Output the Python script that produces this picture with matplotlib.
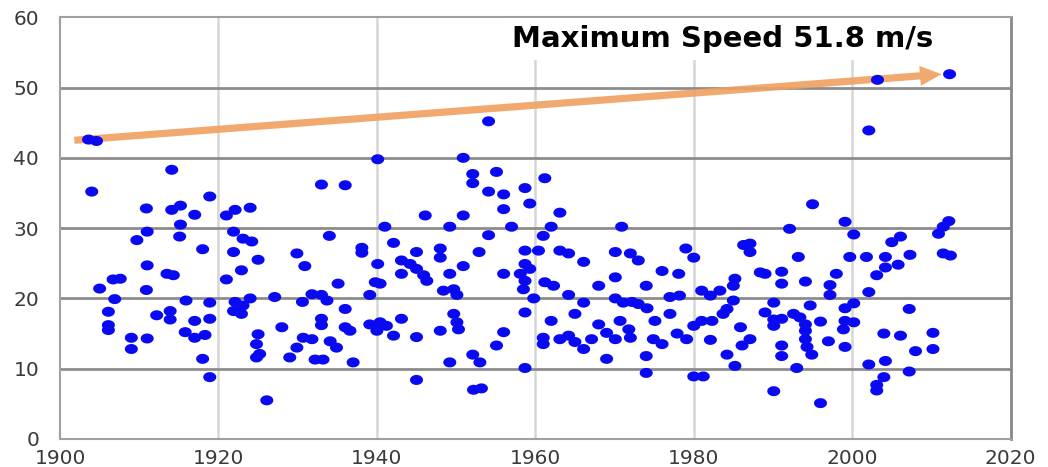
import numpy as np
import matplotlib
matplotlib.use("Agg")
import matplotlib.pyplot as plt
from matplotlib.path import Path

# storm years and maximum wind speed (m/s)
years = [
    1903.6, 1904.6, 1904.0, 1905.0, 1906.1, 1906.1, 1906.1, 1906.7, 1907.6, 1906.9,
    1909.0, 1909.0, 1909.7, 1910.9, 1911.0, 1911.0, 1910.9, 1911.0, 1912.2, 1913.5,
    1914.3, 1913.9, 1913.9, 1914.1, 1914.1, 1915.2, 1915.2, 1915.1, 1915.9, 1915.8,
    1917.0, 1917.0, 1917.0, 1918.0, 1918.0, 1918.3, 1918.9, 1918.9, 1918.9, 1918.9,
    1921.0, 1921.0, 1921.9, 1921.9, 1921.9, 1922.1, 1922.1, 1922.9, 1922.9, 1923.1,
    1923.1, 1924.0, 1924.0, 1924.2, 1925.0, 1925.0, 1924.8, 1924.8, 1925.2, 1926.1,
    1927.1, 1928.0, 1929.0, 1929.9, 1930.7, 1929.9, 1930.9, 1930.6,
    1931.8, 1933.0, 1933.7, 1931.8, 1932.2, 1933.2, 1933.0, 1933.0, 1933.0, 1934.0,
    1934.1, 1934.9, 1935.1, 1936.0, 1936.0, 1936.0, 1936.6, 1937.0, 1938.1, 1938.1,
    1939.1, 1939.8, 1940.4, 1939.1, 1940.0, 1940.1, 1940.1, 1940.4, 1941.0, 1941.2,
    1942.1, 1942.1, 1943.1, 1943.1, 1943.1, 1944.2, 1945.0, 1945.0, 1945.0, 1945.0,
    1945.9, 1946.3, 1946.1, 1948.0, 1948.0, 1948.0, 1948.4, 1949.2, 1949.2, 1949.2,
    1949.7, 1949.7, 1950.1, 1950.1, 1950.3, 1950.9, 1950.9, 1950.9, 1952.1, 1952.1,
    1952.1, 1952.2, 1953.2, 1952.9, 1953.0, 1954.1, 1954.1, 1954.1, 1955.1, 1955.1,
    1956.0, 1956.0, 1956.0, 1956.0, 1957.0, 1958.1, 1958.5, 1958.7, 1958.7, 1958.7,
    1958.7, 1958.7, 1958.7, 1959.3, 1959.3, 1959.8,
    1960.4, 1961.0, 1961.2, 1961.2, 1961.0, 1961.0, 1962.0, 1962.0, 1962.3, 1963.1,
    1963.1, 1963.1, 1964.2, 1964.2, 1964.2, 1965.0, 1965.0, 1966.1, 1966.1, 1966.1,
    1967.1, 1968.0, 1968.0, 1969.0, 1969.0, 1970.1, 1970.1, 1970.1, 1970.1, 1970.7,
    1970.9, 1971.1, 1971.8, 1972.0, 1972.0, 1972.2, 1973.0, 1973.0, 1974.0, 1974.1,
    1974.9, 1974.0, 1974.0, 1975.1, 1976.0, 1978.1, 1976.0, 1977.0, 1977.0, 1977.9,
    1978.2, 1979.0, 1979.1, 1980.0, 1980.0, 1980.0, 1981.2, 1981.0, 1981.0, 1982.1,
    1982.3, 1982.1, 1983.3, 1983.7, 1984.2, 1984.2, 1985.0, 1985.2, 1985.0, 1985.2,
    1985.9, 1986.1, 1986.3, 1987.1, 1987.1, 1987.1, 1988.4,
    1989.0, 1989.0, 1990.1, 1990.1, 1990.1, 1990.1, 1991.1, 1991.1, 1991.1, 1991.1,
    1991.1, 1992.1, 1992.6, 1993.2, 1993.4, 1993.0, 1994.1, 1994.1, 1994.1, 1994.1,
    1994.3, 1994.7, 1994.9, 1995.0, 1996.0, 1996.0, 1997.0, 1997.2, 1997.2, 1998.0,
    1998.9, 1999.1, 1999.1, 1999.1, 1999.1, 1999.7, 2000.2, 2000.2, 2000.2, 2001.8,
    2002.1, 2002.1, 2002.1, 2003.1, 2003.1, 2003.1, 2003.2, 2004.2, 2004.2, 2004.0,
    2004.2, 2004.0, 2005.0, 2005.8, 2006.1, 2006.1, 2007.3, 2007.2, 2007.2, 2008.0,
    2010.2, 2010.2, 2010.9, 2011.5, 2012.2, 2011.5, 2012.4, 2012.3,
]
speeds = [
    42.6, 42.4, 35.2, 21.4, 18.1, 16.2, 15.5, 22.7, 22.8, 19.9,
    14.4, 12.8, 28.3, 32.8, 29.5, 24.7, 21.2, 14.3, 17.6, 23.5,
    23.3, 18.2, 17.0, 38.3, 32.6, 33.2, 30.5, 28.8, 19.7, 15.2,
    31.9, 16.8, 14.4, 27.0, 11.4, 14.8, 34.5, 19.4, 17.1, 8.8,
    31.8, 22.7, 29.5, 26.6, 18.2, 32.6, 19.5, 24.0, 17.8, 28.5,
    19.0, 32.9, 20.0, 28.1, 25.5, 14.9, 13.5, 11.6, 12.1, 5.5,
    20.2, 15.9, 11.6, 13.0, 14.4, 26.4, 24.6, 19.5,
    20.6, 20.5, 19.7, 14.2, 11.3, 11.3, 36.2, 17.1, 16.2, 28.9,
    13.9, 13.0, 22.1, 36.1, 18.5, 15.9, 15.4, 10.9, 27.2, 26.5,
    20.5, 22.3, 22.1, 16.3, 15.4, 39.8, 24.9, 16.6, 30.2, 16.1,
    27.9, 14.7, 25.4, 23.5, 17.1, 24.9, 26.6, 24.2, 14.5, 8.4,
    23.3, 22.5, 31.8, 27.1, 25.8, 15.4, 21.1, 30.2, 23.5, 10.9,
    21.3, 17.8, 20.5, 16.6, 15.6, 40.0, 31.8, 24.6, 37.7, 36.4,
    12.0, 7.0, 7.2, 26.6, 10.9, 45.2, 35.2, 29.0, 38.0, 13.3,
    34.8, 32.7, 23.5, 15.2, 30.2, 23.5, 21.3, 35.7, 26.8, 24.9,
    22.5, 18.0, 10.1, 33.5, 24.2, 20.0,
    26.8, 28.9, 37.1, 22.3, 14.4, 13.5, 30.2, 16.8, 21.8, 32.2,
    26.8, 14.2, 26.4, 20.5, 14.7, 17.8, 13.8, 25.2, 19.4, 12.8,
    14.2, 21.8, 16.3, 15.1, 11.4, 26.6, 23.0, 20.0, 14.2, 16.8,
    30.2, 19.4, 15.6, 26.4, 14.4, 19.5, 25.4, 19.2, 21.8, 18.6,
    14.2, 11.8, 9.4, 16.8, 23.9, 23.5, 13.5, 20.2, 17.8, 15.0,
    20.4, 27.1, 14.2, 25.8, 16.1, 8.9, 8.9, 21.1, 16.8, 20.4,
    16.8, 14.1, 21.1, 17.8, 18.5, 12.0, 21.8, 22.8, 19.7, 10.4,
    15.9, 13.3, 27.6, 27.8, 26.6, 14.2, 23.7,
    23.5, 18.0, 19.4, 17.0, 16.1, 6.8, 23.8, 22.1, 17.1, 13.3,
    11.8, 29.9, 17.8, 25.9, 17.3, 10.1, 22.4, 16.3, 15.4, 14.2,
    13.1, 19.0, 12.0, 33.4, 16.7, 5.1, 13.9, 21.9, 20.5, 23.5,
    15.6, 30.9, 18.6, 16.8, 13.1, 25.9, 29.1, 19.3, 16.6, 25.9,
    43.9, 20.9, 10.6, 23.3, 7.7, 6.9, 51.1, 25.9, 24.4, 15.0,
    11.1, 8.8, 28.0, 24.8, 28.8, 14.7, 26.2, 18.5, 9.6, 12.5,
    15.1, 12.8, 29.2, 30.2, 31.0, 26.4, 26.1, 51.9,
]

x_ticks = [1900, 1920, 1940, 1960, 1980, 2000, 2020]
y_ticks = [0, 10, 20, 30, 40, 50, 60]
trend_start = (1901.8, 42.5)
trend_end = (2011.3, 51.9)
label = "Maximum Speed 51.8 m/s"

# slightly wide oval dots like in the scanned chart
t = np.linspace(0, 2 * np.pi, 40)
oval = Path(np.column_stack([1.3 * np.cos(t), np.sin(t)]), closed=True)

fig = plt.figure(figsize=(10.48, 4.67), dpi=100)
ax = fig.add_axes([0.0573, 0.06, 0.907, 0.903])

ax.set_xlim(1900, 2020)
ax.set_ylim(0, 60)
ax.set_xticks(x_ticks)
ax.set_yticks(y_ticks)
ax.tick_params(length=0, labelsize=14.5, labelcolor="#3a3a3a")
ax.tick_params(axis="y", pad=15)
ax.tick_params(axis="x", pad=7)

for yv in y_ticks[1:-1]:
    ax.axhline(yv, color="#8c8c8c", lw=2, zorder=1)
for xv in x_ticks[1:-1]:
    ax.axvline(xv, color="#d6d6d6", lw=1.8, zorder=0.5)

for side in ["left", "top", "bottom"]:
    ax.spines[side].set_color("#a0a0a0")
    ax.spines[side].set_linewidth(1.5)
ax.spines["right"].set_color("#888888")
ax.spines["right"].set_linewidth(2)

ax.annotate("", xy=trend_end, xytext=trend_start,
            arrowprops=dict(arrowstyle="simple,head_length=1.2,head_width=1.1,tail_width=0.4",
                            mutation_scale=13, color="#f0a060", alpha=0.9, lw=0,
                            shrinkA=0, shrinkB=0), zorder=2)

ax.scatter(years, speeds, s=88, marker=oval, color="#0a0af2", edgecolors="none", zorder=3)

ax.text(1983.6, 56.9, label, fontsize=21, fontweight="bold", color="black",
        ha="center", va="center", family="DejaVu Sans",
        bbox=dict(boxstyle="square,pad=0.25", fc="white", ec="none"), zorder=4)

fig.savefig("out.png", dpi=100)
